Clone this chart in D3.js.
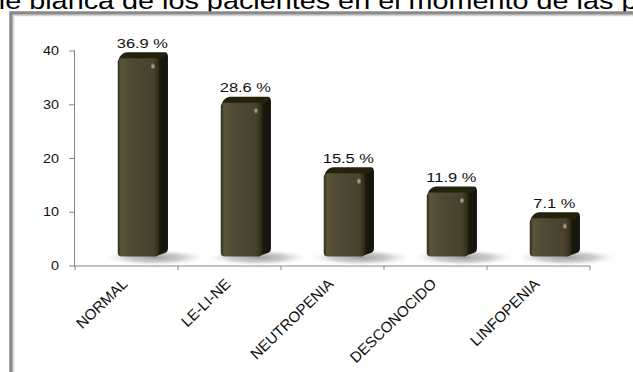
<!DOCTYPE html>
<html>
<head>
<meta charset="utf-8">
<script src="https://cdn.jsdelivr.net/npm/d3@7"></script>
<style>
  html, body { margin: 0; padding: 0; background: #fff; overflow: hidden; }
  svg { display: block; font-family: "Liberation Sans", Arial, sans-serif; }
</style>
</head>
<body>
<svg id="chart" width="633" height="372"></svg>
<script>
// Serie blanca: distribución de pacientes (%)
const categories = ["NORMAL", "LE-LI-NE", "NEUTROPENIA", "DESCONOCIDO", "LINFOPENIA"];
const percentages = [36.9, 28.6, 15.5, 11.9, 7.1];
const yTicks = [0, 10, 20, 30, 40];
const titleText = "Serie blanca de los pacientes en el momento de las pruebas";

const svg = d3.select("#chart");
const W = 633, H = 372;

// plot area
const x0 = 75, x1 = 590, yBase = 265.5, yTop = 50.5;
const x = d3.scaleBand().domain(categories).range([x0, x1]).padding(0);
const y = d3.scaleLinear().domain([0, 40]).range([yBase, yTop]);

// 3D bar geometry
const depthX = 9, depthY = 6, lift = 9;
const frontOffset = 0.415, frontWidth = 0.4;

const defs = svg.append("defs");
const fg = defs.append("linearGradient").attr("id", "front").attr("x1", 0).attr("x2", 1).attr("y1", 0).attr("y2", 0);
fg.append("stop").attr("offset", 0).attr("stop-color", "#2f2c1b");
fg.append("stop").attr("offset", 0.08).attr("stop-color", "#5a5539");
fg.append("stop").attr("offset", 0.35).attr("stop-color", "#4e4933");
fg.append("stop").attr("offset", 0.85).attr("stop-color", "#47422c");
fg.append("stop").attr("offset", 1).attr("stop-color", "#2e2b1a");
const sg = defs.append("linearGradient").attr("id", "side").attr("x1", 0).attr("x2", 1).attr("y1", 0).attr("y2", 0);
sg.append("stop").attr("offset", 0).attr("stop-color", "#23210f");
sg.append("stop").attr("offset", 1).attr("stop-color", "#121108");
const shg = defs.append("radialGradient").attr("id", "shadow");
shg.append("stop").attr("offset", 0).attr("stop-color", "#9a9a9a").attr("stop-opacity", 0.95);
shg.append("stop").attr("offset", 0.55).attr("stop-color", "#b8b8b8").attr("stop-opacity", 0.7);
shg.append("stop").attr("offset", 1).attr("stop-color", "#e6e6e6").attr("stop-opacity", 0);
defs.append("filter").attr("id", "soft").append("feGaussianBlur").attr("stdDeviation", 0.7);
defs.append("filter").attr("id", "spec").append("feGaussianBlur").attr("stdDeviation", 0.8);

// title (runs past the page edges)
svg.append("text")
  .attr("transform", "translate(-46,9) scale(1.2,1)")
  .attr("font-size", 24)
  .attr("fill", "#000")
  .text(titleText);

// frame
svg.append("path")
  .attr("d", `M11,${H + 5} V13 H${W + 5}`)
  .attr("fill", "none").attr("stroke", "#8a8a8a").attr("stroke-width", 3.5);
svg.append("path")
  .attr("d", `M13.5,${H + 5} V15.5 H${W + 5}`)
  .attr("fill", "none").attr("stroke", "#d4d4d4").attr("stroke-width", 1.5);

// bar geometry from the data
const bw = x.bandwidth();
const bars = categories.map((c, i) => {
  const fx0 = x(c) + bw * frontOffset;
  const fx1 = fx0 + bw * frontWidth;
  const fyT = y(percentages[i]) - lift;
  const fyB = y(0) - lift;
  return { c, v: percentages[i], fx0, fx1, fyT, fyB };
});

// floor shadows
svg.append("g").selectAll("ellipse").data(bars).join("ellipse")
  .attr("cx", d => (d.fx0 + d.fx1 + depthX) / 2 + 12)
  .attr("cy", d => d.fyB + 1)
  .attr("rx", 50).attr("ry", 8)
  .attr("fill", "url(#shadow)");

// axes
const axisColor = "#868686";
const gy = svg.append("g").attr("transform", `translate(${x0},0)`)
  .call(d3.axisLeft(y).tickValues(yTicks).tickSize(6).tickPadding(10).tickFormat(d3.format("d")));
gy.select(".domain").attr("stroke", axisColor).attr("d", `M-0.5,${yTop}V${yBase + 0.5}`);
gy.selectAll(".tick line").attr("stroke", axisColor);
gy.selectAll(".tick text")
  .attr("font-size", 12.5).attr("fill", "#111")
  .attr("font-family", "Liberation Sans, Arial, sans-serif")
  .each(function () {
    const t = d3.select(this);
    const xx = +t.attr("x");
    t.attr("x", null).attr("transform", `translate(${xx},0) scale(1.15,1)`);
  });

const gx = svg.append("g").attr("transform", `translate(0,${yBase + 0.5})`);
gx.append("line").attr("x1", x0 - 1).attr("x2", x1).attr("stroke", axisColor);
gx.selectAll("line.tk").data(categories.concat(["__end"])).join("line")
  .attr("class", "tk")
  .attr("x1", (d, i) => i < categories.length ? x(d) : x1)
  .attr("x2", (d, i) => i < categories.length ? x(d) : x1)
  .attr("y1", 0).attr("y2", 4)
  .attr("stroke", axisColor);

// category labels, rotated
gx.selectAll("text").data(categories).join("text")
  .attr("transform", d => `translate(${x(d) + bw / 2 + 2},${19}) rotate(-44)`)
  .attr("text-anchor", "end")
  .attr("font-size", 15)
  .attr("fill", "#111")
  .text(d => d);

// 3D columns
const g = svg.append("g");
bars.forEach(d => {
  const r = 4;
  const gb = g.append("g").attr("filter", "url(#soft)");
  // side face
  gb.append("path")
    .attr("d", `M${d.fx1 - r},${d.fyT} L${d.fx1 + depthX - 1},${d.fyT - depthY + 1}
      Q${d.fx1 + depthX},${d.fyT - depthY + 2} ${d.fx1 + depthX},${d.fyT - depthY + 5}
      L${d.fx1 + depthX},${d.fyB - depthY - 2}
      Q${d.fx1 + depthX},${d.fyB - depthY + 1} ${d.fx1 + depthX - 2},${d.fyB - depthY + 2}
      L${d.fx1 - r},${d.fyB} Z`)
    .attr("fill", "url(#side)");
  // top face
  gb.append("path")
    .attr("d", `M${d.fx0 + 1},${d.fyT + 1} Q${d.fx0 + 3},${d.fyT - depthY + 1} ${d.fx0 + depthX},${d.fyT - depthY}
      L${d.fx1 + depthX - 3},${d.fyT - depthY}
      Q${d.fx1 + depthX},${d.fyT - depthY} ${d.fx1 + depthX - 1},${d.fyT - depthY + 3}
      L${d.fx1},${d.fyT + 2} Z`)
    .attr("fill", "#24220f");
  // front face
  gb.append("rect")
    .attr("x", d.fx0).attr("y", d.fyT)
    .attr("width", d.fx1 - d.fx0).attr("height", d.fyB - d.fyT)
    .attr("rx", r).attr("ry", r)
    .attr("fill", "url(#front)");
  // specular spot
  g.append("ellipse")
    .attr("cx", d.fx1 - 6).attr("cy", d.fyT + 8)
    .attr("rx", 1.3).attr("ry", 2)
    .attr("fill", "#f2efd8").attr("filter", "url(#spec)");
  // value label
  g.append("text")
    .attr("transform", `translate(${(d.fx0 + d.fx1) / 2 + 4},${d.fyT - 10.5}) scale(1.22,1)`)
    .attr("text-anchor", "middle")
    .attr("font-size", 13.5)
    .attr("fill", "#111")
    .text(`${d.v.toFixed(1)} %`);
});
</script>
</body>
</html>
